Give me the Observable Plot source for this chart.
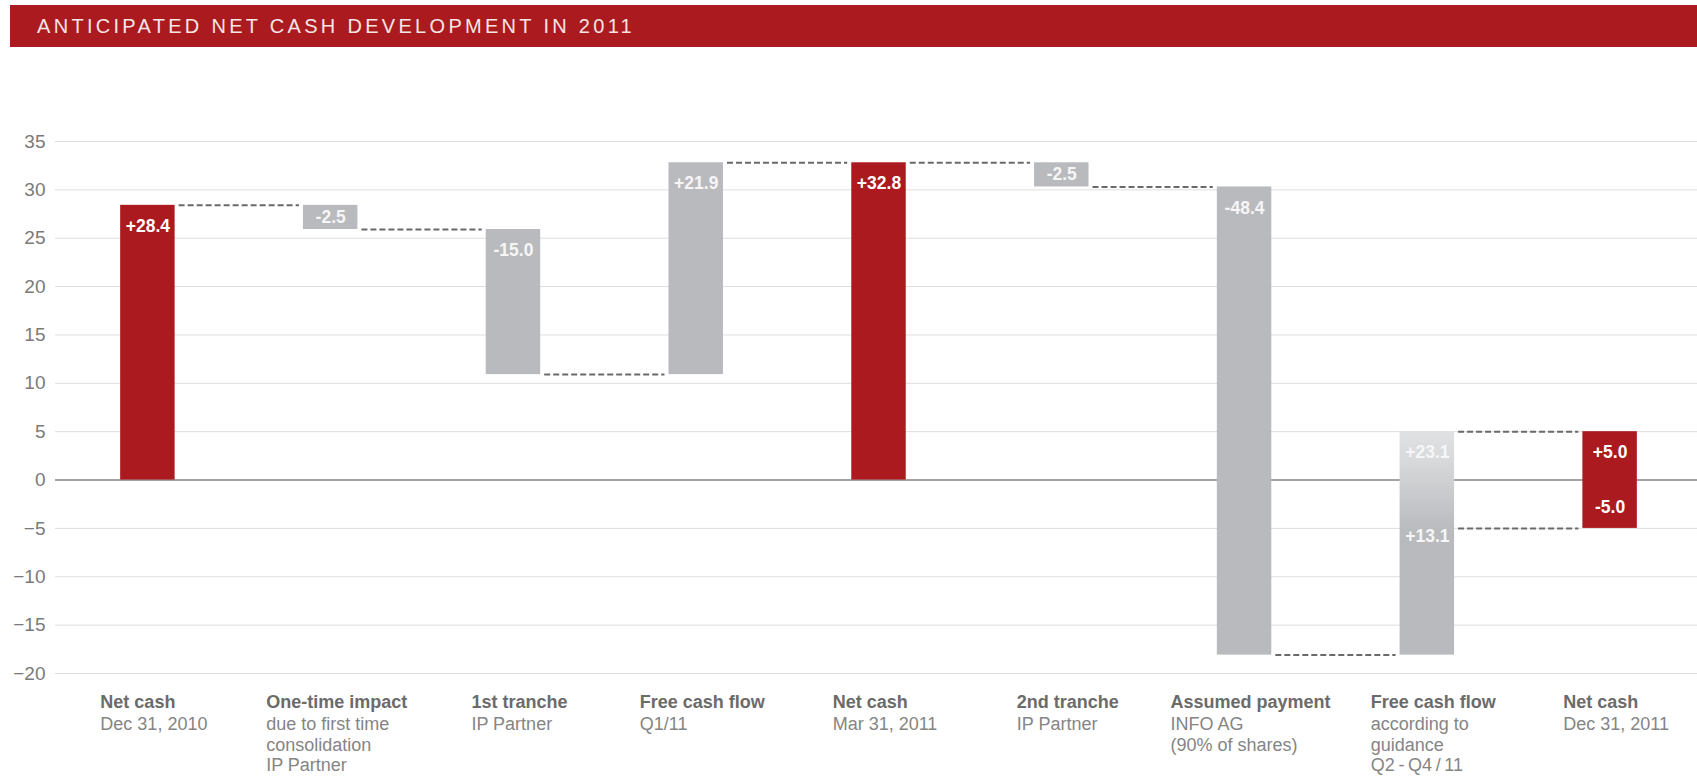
<!DOCTYPE html>
<html><head><meta charset="utf-8">
<script src="https://cdn.jsdelivr.net/npm/d3@7"></script>
<script src="https://cdn.jsdelivr.net/npm/@observablehq/plot@0.6"></script>
<style>
body{margin:0;background:#fff;font-family:"Liberation Sans",Arial,sans-serif;overflow:hidden;}
#title{position:absolute;left:10px;top:5px;right:0;height:42px;background:#ab1a1f;color:#f4e6e6;font-size:20px;letter-spacing:3.3px;line-height:43px;padding-left:27px;white-space:nowrap;}
#chart{position:absolute;left:0;top:50px;}
</style></head><body>
<div id="title">ANTICIPATED NET CASH DEVELOPMENT IN 2011</div>
<div id="chart"></div>
<script>
// ---- data ----
const categories = ["Net cash", "One-time impact", "1st tranche", "Free cash flow", "Net cash", "2nd tranche", "Assumed payment", "Free cash flow", "Net cash"];
const subLabels = [
  ["Dec 31, 2010"],
  ["due to first time", "consolidation", "IP Partner"],
  ["IP Partner"],
  ["Q1/11"],
  ["Mar 31, 2011"],
  ["IP Partner"],
  ["INFO AG", "(90% of shares)"],
  ["according to", "guidance", "Q2\u2009-\u2009Q4\u2009/\u200911"],
  ["Dec 31, 2011"]
];
const barStart = [0, 28.4, 25.9, 10.9, 0, 32.8, 30.3, -18.1, -5.0];
const barEnd   = [28.4, 25.9, 10.9, 32.8, 32.8, 30.3, -18.1, 5.0, 5.0];
const barKind  = ["total", "change", "change", "change", "total", "change", "change", "range", "total"];
const valueLabels = ["+28.4", "-2.5", "-15.0", "+21.9", "+32.8", "-2.5", "-48.4", "+23.1", "+5.0"];
const lowerLabels = [null, null, null, null, null, null, null, "+13.1", "-5.0"];
const lowerLevel = -5.0;
const connectorFrom  = [0, 1, 2, 3, 4, 5, 6, 7, 7];
const connectorLevel = [28.4, 25.9, 10.9, 32.8, 32.8, 30.3, -18.1, 5.0, -5.0];
const yTicks = [-20, -15, -10, -5, 0, 5, 10, 15, 20, 25, 30, 35];

// ---- build ----
const RED = "#ab1a1f", GRAY = "#b9babd";
const half = 0.149, gap = 0.022;
const step = (1701 - 56) / 9;

const bars = categories.map((c, i) => ({
  i, c, y1: barStart[i], y2: barEnd[i], kind: barKind[i],
  top: Math.max(barStart[i], barEnd[i]), bottom: Math.min(barStart[i], barEnd[i]),
  label: valueLabels[i], lower: lowerLabels[i], sub: subLabels[i]
}));
const connectors = connectorFrom.map((f, k) => ({x1: f + half + gap, x2: f + 1 - half - gap, y: connectorLevel[k]}));

const ctx = document.createElement("canvas").getContext("2d");
function tw(t, bold) { ctx.font = (bold ? "bold " : "") + "18px 'Liberation Sans'"; return ctx.measureText(t).width; }
bars.forEach(b => {
  const w = Math.max(tw(b.c, true), ...b.sub.map(s => tw(s, false)));
  b.lx = b.i + (-w / 2 + 6) / step;
});

const small = b => (b.top - b.bottom) < 5;
const topLabels = bars.filter(b => !small(b));
const midLabels = bars.filter(b => small(b));

const plot = Plot.plot({
  width: 1697, height: 726,
  marginLeft: 55, marginRight: 0, marginTop: 91, marginBottom: 103,
  x: {type: "linear", domain: [-0.5, 8.5], range: [56, 1701], axis: null},
  y: {domain: [-20, 35], label: null, axis: null},
  style: {fontFamily: "'Liberation Sans', Arial, sans-serif", overflow: "visible", background: "transparent"},
  marks: [
    Plot.gridY(yTicks, {stroke: "#dedede", strokeOpacity: 1, strokeWidth: 1}),
    Plot.axisY(yTicks, {tickSize: 0, tickPadding: 10, fontSize: 19, fill: "#7a7a7a", label: null}),
    Plot.ruleY([0], {stroke: "#8a8a8a", strokeWidth: 1.6}),
    Plot.ruleY(connectors, {x1: "x1", x2: "x2", y: "y", stroke: "#6a6a6a", strokeWidth: 2, strokeDasharray: "6,3"}),
    Plot.rectY(bars, {
      x1: b => b.i - half, x2: b => b.i + half, y1: "y1", y2: "y2",
      fill: b => b.kind === "total" ? RED : b.kind === "range" ? "url(#rangeGrad)" : GRAY
    }),
    Plot.text(topLabels, {x: "i", y: "top", text: "label", dy: 21, lineAnchor: "middle",
      fill: b => b.kind === "total" ? "#ffffff" : "#f6f6f6", fontWeight: "bold", fontSize: 17.5}),
    Plot.text(midLabels, {x: "i", y: b => (b.top + b.bottom) / 2, text: "label", lineAnchor: "middle",
      fill: "#f6f6f6", fontWeight: "bold", fontSize: 17.5}),
    Plot.text(bars.filter(b => b.lower && b.kind === "range"), {x: "i", y: () => lowerLevel, text: "lower", dy: 8, lineAnchor: "middle",
      fill: "#f6f6f6", fontWeight: "bold", fontSize: 17.5}),
    Plot.text(bars.filter(b => b.lower && b.kind === "total"), {x: "i", y: () => lowerLevel, text: "lower", dy: -21, lineAnchor: "middle",
      fill: "#ffffff", fontWeight: "bold", fontSize: 17.5}),
    Plot.text(bars, {x: "lx", frameAnchor: "bottom", text: "c", textAnchor: "start", lineAnchor: "top", dy: 22,
      fontWeight: "bold", fontSize: 18, fill: "#6b6b6b"}),
    Plot.text(bars, {x: "lx", frameAnchor: "bottom", text: b => b.sub.join("\n"), textAnchor: "start", lineAnchor: "top", dy: 42,
      lineHeight: 20.5 / 18, fontSize: 18, fill: "#858585"})
  ]
});

const ns = "http://www.w3.org/2000/svg";
const defs = document.createElementNS(ns, "defs");
defs.innerHTML = '<linearGradient id="rangeGrad" x1="0" y1="0" x2="0" y2="1">' +
  '<stop offset="0" stop-color="#e0e1e3"/><stop offset="0.12" stop-color="#d9dadc"/>' +
  '<stop offset="0.45" stop-color="#b9babd"/><stop offset="1" stop-color="#b9babd"/></linearGradient>';
plot.insertBefore(defs, plot.firstChild);
document.getElementById("chart").appendChild(plot);
</script>
</body></html>
